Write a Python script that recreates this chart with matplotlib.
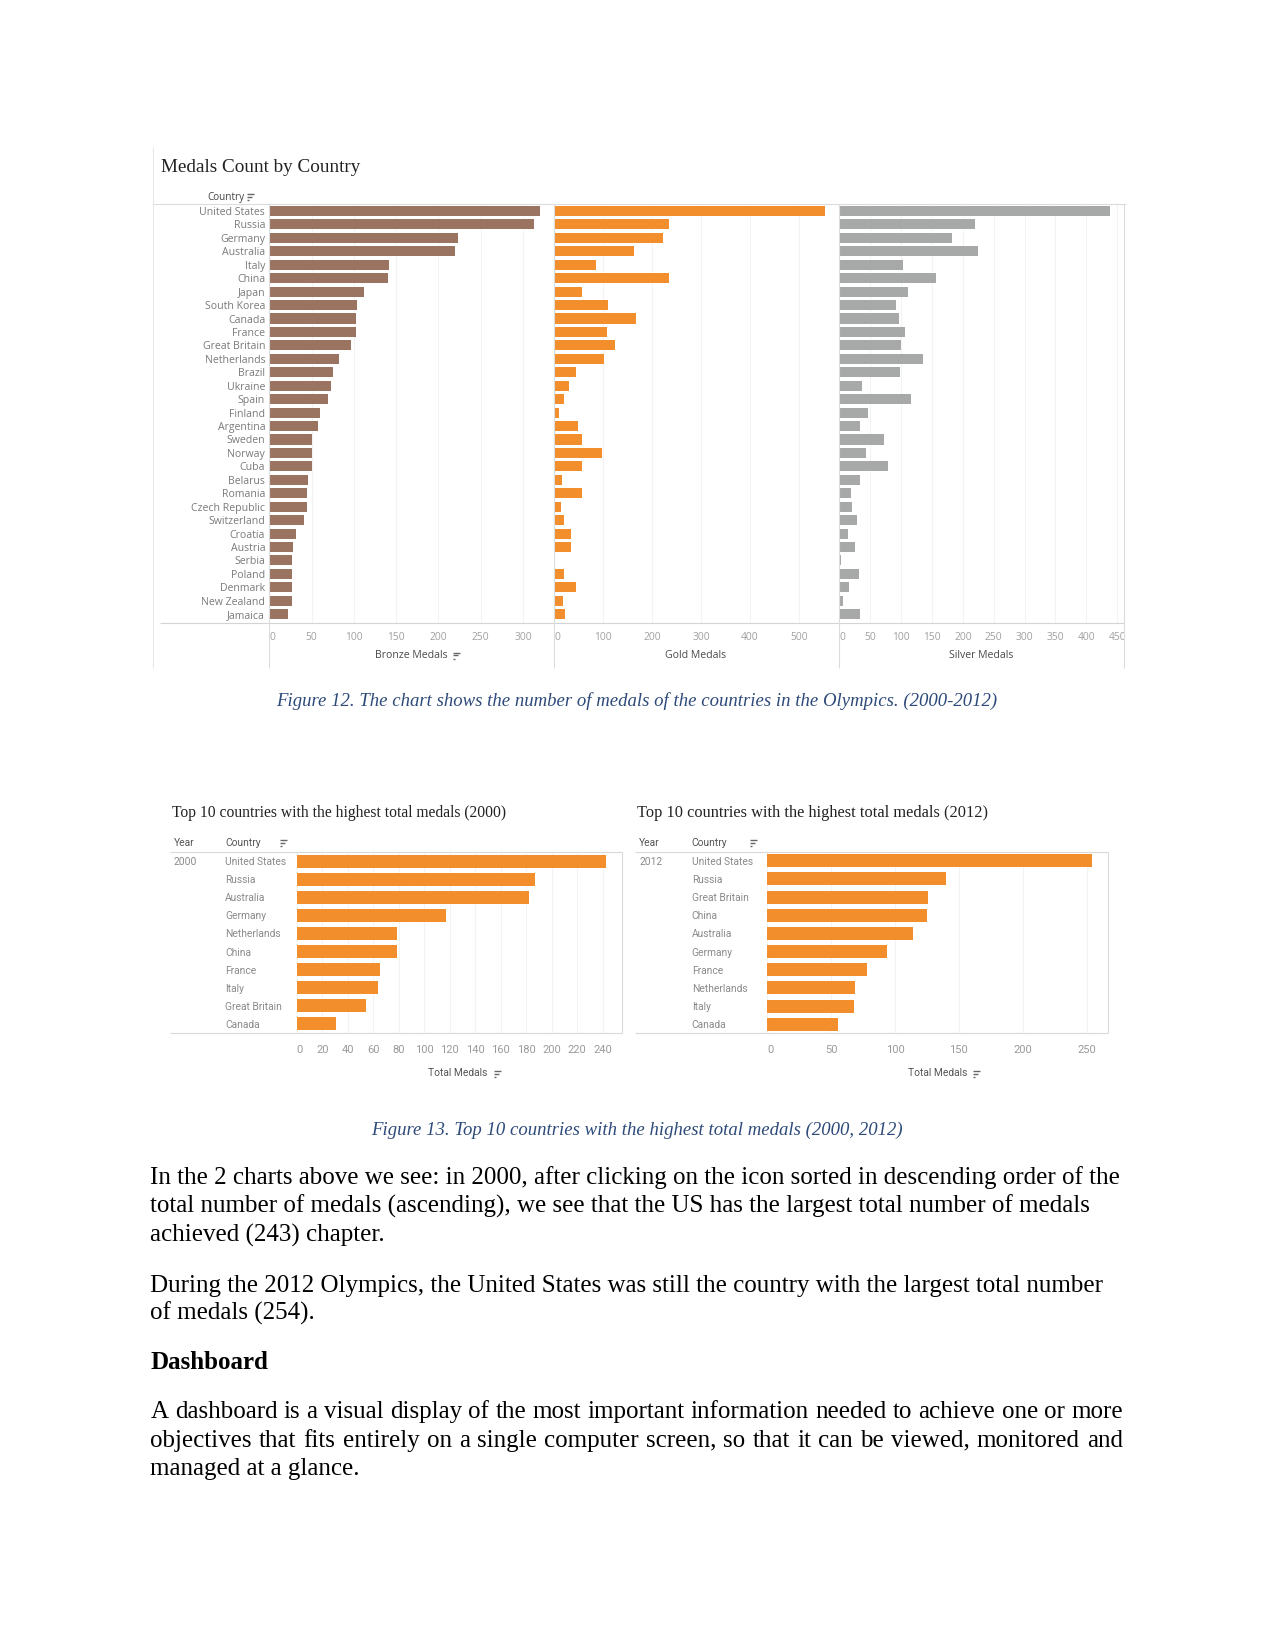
import matplotlib
matplotlib.use("Agg")
import matplotlib.pyplot as plt
from matplotlib.lines import Line2D
from matplotlib import font_manager as fm

# ---------------- data ----------------
countries = ["United States", "Russia", "Germany", "Australia", "Italy", "China", "Japan",
             "South Korea", "Canada", "France", "Great Britain", "Netherlands", "Brazil",
             "Ukraine", "Spain", "Finland", "Argentina", "Sweden", "Norway", "Cuba", "Belarus",
             "Romania", "Czech Republic", "Switzerland", "Croatia", "Austria", "Serbia",
             "Poland", "Denmark", "New Zealand", "Jamaica"]
bronze = [320, 313, 223, 220, 142, 140, 112, 104, 103, 102, 97, 82, 75, 73, 69, 60, 57, 51,
          51, 51, 46, 45, 45, 41, 32, 28, 27, 27, 27, 27, 22]
gold = [554, 234, 222, 163, 85, 234, 56, 110, 167, 107, 124, 101, 45, 30, 19, 10, 48, 56,
        97, 56, 16, 56, 14, 20, 34, 35, 0, 19, 45, 18, 22]
silver = [439, 220, 182, 225, 103, 156, 111, 92, 97, 107, 100, 135, 98, 37, 116, 46, 33, 72,
          44, 79, 33, 19, 20, 29, 14, 25, 2, 32, 15, 6, 33]
bronze_ticks = [0, 50, 100, 150, 200, 250, 300]
gold_ticks = [0, 100, 200, 300, 400, 500]
silver_ticks = [0, 50, 100, 150, 200, 250, 300, 350, 400, 450]

top2000_countries = ["United States", "Russia", "Australia", "Germany", "Netherlands", "China",
                     "France", "Italy", "Great Britain", "Canada"]
top2000_totals = [243, 187, 182, 117, 79, 79, 65, 64, 54, 31]
ticks2000 = [0, 20, 40, 60, 80, 100, 120, 140, 160, 180, 200, 220, 240]

top2012_countries = ["United States", "Russia", "Great Britain", "China", "Australia",
                     "Germany", "France", "Netherlands", "Italy", "Canada"]
top2012_totals = [254, 140, 126, 125, 114, 94, 78, 69, 68, 55]
ticks2012 = [0, 50, 100, 150, 200, 250]

# ---------------- helpers ----------------
W, H = 1275, 1650
fig = plt.figure(figsize=(W / 100, H / 100), dpi=100)
fig.patch.set_facecolor("white")
renderer = fig.canvas.get_renderer()


def has_font(name):
    try:
        fm.findfont(fm.FontProperties(family=name), fallback_to_default=False)
        return True
    except Exception:
        return False


SANS = "Open Sans" if has_font("Open Sans") else "DejaVu Sans"
NARROW = "Liberation Sans Narrow" if has_font("Liberation Sans Narrow") else "Roboto"
SERIF = "Liberation Serif"


def add_ax(x0, y0, x1, y1):
    ax = fig.add_axes([x0 / W, 1 - y1 / H, (x1 - x0) / W, (y1 - y0) / H])
    for s in ax.spines.values():
        s.set_visible(False)
    ax.set_facecolor("none")
    return ax


def ftext(x, y, s, **kw):
    return fig.text(x / W, 1 - y / H, s, **kw)


def measure(s, size, family, **kw):
    t = fig.text(0, 0, s, fontsize=size, family=family, **kw)
    w = t.get_window_extent(renderer).width
    t.remove()
    return w


def fit_size(s, width, family, **kw):
    return 10 * width / measure(s, 10, family, **kw)


def line(x0, y0, x1, y1, color="#DADADA", lw=0.8):
    fig.add_artist(Line2D([x0 / W, x1 / W], [1 - y0 / H, 1 - y1 / H], color=color, lw=lw,
                          transform=fig.transFigure, solid_capstyle="butt"))


def sort_icon(x, y, color="#666666"):
    for dy, ln in ((-3, 7), (0, 5), (3, 2)):
        line(x, y + dy, x + ln, y + dy, color=color, lw=1.0)


# ---------------- top figure: Medals Count by Country ----------------
BRONZE_C, GOLD_C, SILVER_C = "#9B7461", "#F28E2B", "#A7A8A8"
top_y0, top_y1 = 204, 623
row0, row_sp = 211, 13.44
n = len(countries)
ylim_top = -(row0 - top_y0) / row_sp
ylim_bot = ylim_top + (top_y1 - top_y0) / row_sp

ts = fit_size("Medals Count by Country", 199, SERIF)
ftext(160.7, 167, "Medals Count by Country", family=SERIF, fontsize=ts, color="#222222",
      va="center", ha="left")

lbl_size = fit_size("United States", 66, SANS)
tick_size = lbl_size * 0.97

panels = [
    (269.3, 553.5, 336, bronze, BRONZE_C, bronze_ticks, "Bronze Medals", 411, True),
    (554.3, 839.0, 582, gold, GOLD_C, gold_ticks, "Gold Medals", 696, False),
    (839.3, 1124, 461, silver, SILVER_C, silver_ticks, "Silver Medals", 981.5, False),
]
for (x0, x1, xmax, vals, col, ticks, title, tx, with_labels) in panels:
    ax = add_ax(x0, top_y0, x1, top_y1)
    ax.barh(range(n), vals, height=0.75, color=col, zorder=2)
    ax.set_xlim(0, xmax)
    ax.set_ylim(ylim_bot, ylim_top)
    ax.set_xticks(ticks)
    ax.set_xticklabels([str(t) for t in ticks])
    ax.grid(axis="x", color="#F3F3F3", lw=0.8, zorder=0)
    ax.set_axisbelow(True)
    ax.tick_params(axis="x", length=0, labelsize=tick_size, labelcolor="#A0A0A0", pad=6.5)
    for lab in ax.get_xticklabels():
        lab.set_family(SANS)
    ax.get_xticklabels()[0].set_ha("left")
    if with_labels:
        ax.set_yticks(range(n))
        ax.set_yticklabels(countries)
        ax.tick_params(axis="y", length=0, labelsize=lbl_size, labelcolor="#7A7A7A", pad=3.0)
        for lab in ax.get_yticklabels():
            lab.set_family(SANS)
    else:
        ax.set_yticks([])
    tw = measure(title, tick_size * 1.02, SANS)
    ftext(tx, 655.5, title, family=SANS, fontsize=tick_size * 1.02, color="#4A4A4A",
          ha="center", va="center")
    if title.startswith("Bronze"):
        sort_icon(tx + tw / 2 + 6, 655.5)

# frame lines of the top dashboard
line(152.5, 147, 152.5, 668, color="#E8E8E8")
line(152.5, 204, 1126, 204, color="#DCDCDC")
line(160, 623, 1124, 623, color="#D4D4D4")
for xv in (269.3, 554.3, 839.3, 1124):
    line(xv, 204, xv, 668, color="#DCDCDC")
ftext(207, 197.3, "Country", family=SANS, fontsize=lbl_size * 0.95, color="#444444",
      ha="left", va="center")
cw = measure("Country", lbl_size * 0.95, SANS)
sort_icon(207 + cw + 3, 197.3)

# ---------------- captions ----------------
CAP_C = "#2D4A7A"
ftext(637, 706.3, "Figure 12. The chart shows the number of medals of the countries in the Olympics. (2000-2012)",
      family=SERIF, style="italic", fontsize=13.5, color=CAP_C, ha="center", va="baseline")
ftext(637, 1134.5, "Figure 13. Top 10 countries with the highest total medals (2000, 2012)",
      family=SERIF, style="italic", fontsize=13.5, color=CAP_C, ha="center", va="baseline")

# ---------------- bottom figures: top 10 ----------------
ORANGE = "#F28E2B"
lab10 = fit_size("United States", 61, NARROW)


def top10(left, title_w, year, cats, vals, ticks, xmax, ax_x0, ax_x1, yt, yb,
          year_x, country_x, icon_x, axis_title_x, right):
    ttl = "Top 10 countries with the highest total medals (%s)" % year
    tsz = fit_size(ttl, title_w, SERIF)
    ftext(left, 812.7, ttl, family=SERIF, fontsize=tsz, color="#222222", ha="left", va="center")
    ftext(year_x, 842.7, "Year", family=NARROW, fontsize=lab10, color="#555555", va="center")
    ftext(country_x, 842.7, "Country", family=NARROW, fontsize=lab10, color="#555555", va="center")
    sort_icon(icon_x, 842.7)
    ftext(year_x, 861.7, str(year), family=NARROW, fontsize=lab10, color="#8A8A8A", va="center")
    line(year_x - 4, yt, right, yt, color="#D9D9D9")
    line(year_x - 4, yb, right, yb, color="#D9D9D9")
    line(right, yt, right, yb, color="#D9D9D9")
    ax = add_ax(ax_x0, yt, ax_x1, yb)
    k = len(cats)
    ax.barh(range(k), vals, height=0.72, color=ORANGE, zorder=2)
    ax.set_xlim(0, xmax)
    ax.set_ylim(k - 0.5, -0.5)
    ax.set_xticks(ticks)
    ax.set_xticklabels([str(t) for t in ticks])
    ax.grid(axis="x", color="#F3F3F3", lw=0.8, zorder=0)
    ax.set_axisbelow(True)
    ax.tick_params(axis="x", length=0, labelsize=lab10 * 1.08, labelcolor="#9A9A9A", pad=8.5)
    for lab in ax.get_xticklabels():
        lab.set_family(NARROW)
    ax.get_xticklabels()[0].set_ha("left")
    ax.set_yticks(range(k))
    ax.set_yticklabels(cats)
    pad_pt = (ax_x0 - country_x) * 0.72
    ax.tick_params(axis="y", length=0, labelsize=lab10, labelcolor="#8A8A8A", pad=pad_pt)
    for lab in ax.get_yticklabels():
        lab.set_family(NARROW)
        lab.set_ha("left")
    tw = measure("Total Medals", lab10, NARROW)
    ftext(axis_title_x, 1073.5, "Total Medals", family=NARROW, fontsize=lab10, color="#555555",
          ha="center", va="center")
    sort_icon(axis_title_x + tw / 2 + 6, 1073.5)


top10(171.7, 335, 2000, top2000_countries, top2000_totals, ticks2000, 255,
      296.7, 621.7, 852.3, 1032.7, 174, 225, 280, 458, 621.7)
top10(636.7, 351, 2012, top2012_countries, top2012_totals, ticks2012, 267,
      767.3, 1108.3, 851.7, 1033.3, 639, 691.7, 750, 937.5, 1108.3)

# ---------------- body text ----------------
BODY = 18


def body_line(y, s, justify_to=None, weight="normal"):
    x0 = 150.4
    if justify_to is None:
        ftext(x0, y, s, family=SERIF, fontsize=BODY, weight=weight, color="black",
              ha="left", va="baseline")
        return
    words = s.split()
    widths = [measure(w, BODY, SERIF) for w in words]
    gap = (justify_to - x0 - sum(widths)) / (len(words) - 1)
    x = x0
    for w, ww in zip(words, widths):
        ftext(x, y, w, family=SERIF, fontsize=BODY, color="black", ha="left", va="baseline")
        x += ww + gap


body_line(1184, "In the 2 charts above we see: in 2000, after clicking on the icon sorted in descending order of the")
body_line(1212.8, "total number of medals (ascending), we see that the US has the largest total number of medals")
body_line(1241.6, "achieved (243) chapter.")
body_line(1291.7, "During the 2012 Olympics, the United States was still the country with the largest total number")
body_line(1319.5, "of medals (254).")
body_line(1369, "Dashboard", weight="bold")
body_line(1418.3, "A dashboard is a visual display of the most important information needed to achieve one or more",
          justify_to=1123)
body_line(1446.9, "objectives that fits entirely on a single computer screen, so that it can be viewed, monitored and",
          justify_to=1123)
body_line(1475.5, "managed at a glance.")

fig.savefig("out.png", dpi=100, facecolor="white")
